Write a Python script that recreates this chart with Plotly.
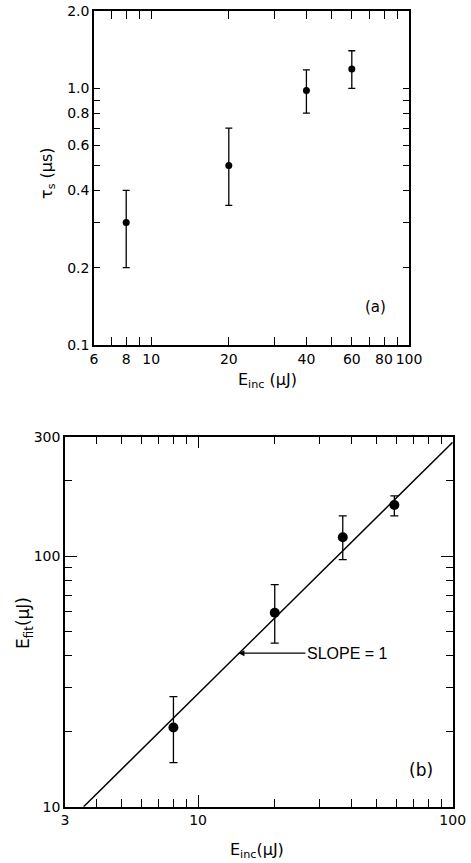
import math
import plotly.graph_objects as go

# ---------------- data: panel (a) ----------------
e_inc_a = [8, 20, 40, 60]
tau_s = [0.30, 0.50, 0.98, 1.19]
tau_hi = [0.40, 0.70, 1.18, 1.40]
tau_lo = [0.20, 0.35, 0.80, 1.00]

# ---------------- data: panel (b) ----------------
e_inc_b = [8, 20, 37, 59]
e_fit = [20.7, 59.5, 119, 160]
e_fit_hi = [27.5, 77, 145, 174]
e_fit_lo = [15, 45, 97, 145]

# slope = 1 reference line (end points)
line_x = [3.55, 100]
line_y = [10, 285]

# tick labels
xa_ticks = [6, 8, 10, 20, 40, 60, 80, 100]
xa_text = ["6", "8", "10", "20", "40", "60", "80", "100"]
xa_minor = [7, 9, 30, 50, 70, 90]
ya_ticks = [0.1, 0.2, 0.4, 0.6, 0.8, 1.0, 2.0]
ya_text = ["0.1", "0.2", "0.4", "0.6", "0.8", "1.0", "2.0"]
ya_minor = [0.3, 0.5, 0.7, 0.9]
xb_ticks = [3, 10, 100]
xb_text = ["3", "10", "100"]
xb_minor = [4, 5, 6, 7, 8, 9, 20, 30, 40, 50, 60, 70, 80, 90]
yb_ticks = [10, 100, 300]
yb_text = ["10", "100", "300"]
yb_minor = [20, 30, 40, 50, 60, 70, 80, 90, 200]

W, H = 471, 863
FONT = "DejaVu Sans"
FONT2 = "Liberation Sans"

def px_x(p):
    return p / W

def px_y(p):
    return 1 - p / H

# plot areas (pixels)
A_L, A_R, A_T, A_B = 94, 409, 11, 345
B_L, B_R, B_T, B_B = 65, 452.7, 436.7, 806.7

fig = go.Figure()

fig.add_trace(go.Scatter(
    x=e_inc_a, y=tau_s, mode="markers",
    marker=dict(color="black", size=7),
    error_y=dict(type="data", symmetric=False,
                 array=[h - v for h, v in zip(tau_hi, tau_s)],
                 arrayminus=[v - l for l, v in zip(tau_lo, tau_s)],
                 color="black", thickness=1.3, width=3.5),
    xaxis="x", yaxis="y", showlegend=False, cliponaxis=False))

fig.add_trace(go.Scatter(
    x=line_x, y=line_y, mode="lines",
    line=dict(color="black", width=1.5),
    xaxis="x2", yaxis="y2", showlegend=False))

fig.add_trace(go.Scatter(
    x=e_inc_b, y=e_fit, mode="markers",
    marker=dict(color="black", size=10),
    error_y=dict(type="data", symmetric=False,
                 array=[h - v for h, v in zip(e_fit_hi, e_fit)],
                 arrayminus=[v - l for l, v in zip(e_fit_lo, e_fit)],
                 color="black", thickness=1.3, width=4),
    xaxis="x2", yaxis="y2", showlegend=False))

axis_common = dict(type="log", showline=True, linecolor="black", linewidth=1.5,
                   mirror="allticks", ticks="inside", tickcolor="black",
                   tickwidth=1.3, showgrid=False, zeroline=False,
                   automargin=False,
                   tickfont=dict(family=FONT, size=14, color="black"),
                   tickmode="array")

fig.update_layout(
    width=W, height=H,
    margin=dict(l=0, r=0, t=0, b=0),
    paper_bgcolor="white", plot_bgcolor="white",
    font=dict(family=FONT, color="black"),
    xaxis=dict(axis_common,
               domain=[px_x(A_L), px_x(A_R)],
               range=[math.log10(6), math.log10(100)],
               tickvals=xa_ticks, ticktext=xa_text, ticklen=8,
               minor=dict(tickmode="array", tickvals=xa_minor, ticks="inside",
                          ticklen=8, tickcolor="black", tickwidth=1.3),
               anchor="y"),
    yaxis=dict(axis_common,
               domain=[px_y(A_B), px_y(A_T)],
               range=[math.log10(0.1), math.log10(2.0)],
               tickvals=ya_ticks, ticktext=ya_text, ticklen=6,
               minor=dict(tickmode="array", tickvals=ya_minor, ticks="inside",
                          ticklen=6, tickcolor="black", tickwidth=1.3),
               anchor="x"),
    xaxis2=dict(axis_common,
                domain=[px_x(B_L), px_x(B_R)],
                range=[math.log10(3), math.log10(100)],
                tickvals=xb_ticks, ticktext=xb_text, ticklen=12,
                minor=dict(tickmode="array", tickvals=xb_minor, ticks="inside",
                           ticklen=8, tickcolor="black", tickwidth=1.3),
                anchor="y2"),
    yaxis2=dict(axis_common,
                domain=[px_y(B_B), px_y(B_T)],
                range=[math.log10(10), math.log10(300)],
                tickvals=yb_ticks, ticktext=yb_text, ticklen=12,
                minor=dict(tickmode="array", tickvals=yb_minor, ticks="inside",
                           ticklen=7, tickcolor="black", tickwidth=1.3),
                anchor="x2"),
)

# longer decade ticks in panel (a)
tick_style = dict(color="black", width=1.3)
ha = A_B - A_T
wa = A_R - A_L
fig.add_shape(type="line", xref="x", yref="y domain", x0=1, x1=1, y0=0, y1=12 / ha, line=tick_style)
fig.add_shape(type="line", xref="x", yref="y domain", x0=1, x1=1, y0=1, y1=1 - 12 / ha, line=tick_style)
fig.add_shape(type="line", xref="x domain", yref="y", x0=0, x1=12 / wa, y0=0, y1=0, line=tick_style)
fig.add_shape(type="line", xref="x domain", yref="y", x0=1, x1=1 - 12 / wa, y0=0, y1=0, line=tick_style)

def label(text, x, y, size, angle=0):
    fig.add_annotation(text=text, xref="paper", yref="paper",
                       x=px_x(x), y=px_y(y), xanchor="center", yanchor="middle",
                       textangle=angle, showarrow=False,
                       font=dict(family=FONT, size=size, color="black"))

# axis titles and panel labels
label("τ<sub>s</sub> (μs)", 48, 173, 16, -90)
label("E<sub>inc</sub> (μJ)", 267, 380, 16)
label("(a)", 375, 307, 15)
label("E<sub>fit</sub>(μJ)", 24, 623, 17, -90)
label("E<sub>inc</sub>(μJ)", 257, 850, 16)
label("(b)", 421, 770, 17)

fig.add_annotation(text="SLOPE = 1", xref="x2", yref="y2",
                   x=math.log10(14.4), y=math.log10(41),
                   ax=109, ay=0, showarrow=True, arrowhead=2, arrowsize=1,
                   arrowwidth=1.2, arrowcolor="black", standoff=0,
                   font=dict(family=FONT2, size=16, color="black"))

fig.write_html("out.html")
